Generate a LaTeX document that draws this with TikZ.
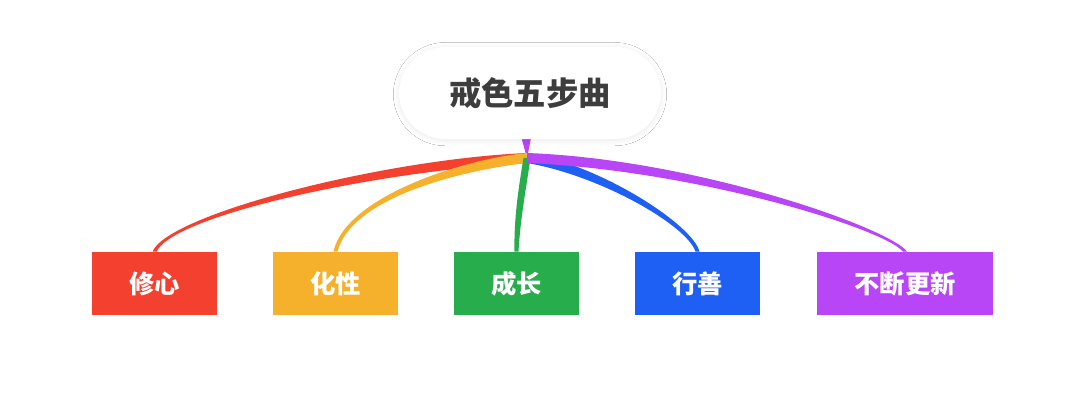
\documentclass[tikz,border=0pt]{standalone}
\usepackage{fontspec}
\setmainfont{Noto Sans CJK SC}
\usetikzlibrary{calc, shadows.blur}
\definecolor{cred}{HTML}{F3402F}
\definecolor{corange}{HTML}{F5B12B}
\definecolor{cgreen}{HTML}{28AD4C}
\definecolor{cblue}{HTML}{1F60F4}
\definecolor{cpurple}{HTML}{B845F6}
\definecolor{ctext}{HTML}{3D3D3D}
\tikzset{
  every picture/.style={font=\bfseries},
  root/.style={fill=white, rounded corners=1.16cm, minimum width=6.55cm, minimum height=2.3cm,
    text=ctext, font=\bfseries\fontsize{23pt}{23pt}\selectfont,
    blur shadow={shadow xshift=0pt, shadow yshift=-0.8pt, shadow blur radius=4pt, shadow blur steps=12, shadow opacity=9}},
  leaf/.style={fill=#1, text=white, minimum width=3.125cm, minimum height=1.575cm, inner sep=0pt,
    font=\bfseries\fontsize{18pt}{18pt}\selectfont},
}
\begin{document}
\begin{tikzpicture}[x=0.025cm, y=-0.025cm]
  \useasboundingbox[fill=white] (0,0) rectangle (1080,411);
  \coordinate (hub) at (527,158);
  % purple stem behind the root
  \fill[cpurple] (521.5,138) -- (531,138) -- (hub) -- cycle;
  \node[root] (top) at (530,93) {戒色五步曲};
  \node[leaf=cred] (xiuxin) at (154.5,283.5) {修心};
  \node[leaf=corange] (huaxing) at (335.5,283.5) {化性};
  \node[leaf=cgreen] (chengzhang) at (516.5,283.5) {成长};
  \node[leaf=cblue] (xingshan) at (697.5,283.5) {行善};
  \node[leaf=cpurple, minimum width=4.4cm] (gengxin) at (905,283.5) {不断更新};
  % tapered branches, thick at the hub
  \foreach \n/\col/\ax/\ay/\bx/\by/\hx/\hy/\cx in {xiuxin/cred/380/165/170/215/0/5/2,
      huaxing/corange/460/165/348/198/0/5/2, xingshan/cblue/600/170/690/225/0/5/-2,
      chengzhang/cgreen/522/190/517/220/3.5/0/2, gengxin/cpurple/700/165/890/230/0/5/-2}
    \fill[\col] ($(hub)+(-\hx,-\hy)$) .. controls ($(\ax,\ay)+(-1.1*\hx,-1.1*\hy)$) and ($(\bx,\by)+(-1.6*\cx,0)$)
      .. ($(\n.north)+(-\cx,0)$) -- ($(\n.north)+(\cx,0)$)
      .. controls ($(\bx,\by)+(1.6*\cx,0)$) and ($(\ax,\ay)+(1.1*\hx,1.1*\hy)$) .. ($(hub)+(\hx,\hy)$) -- cycle;
\end{tikzpicture}
\end{document}
